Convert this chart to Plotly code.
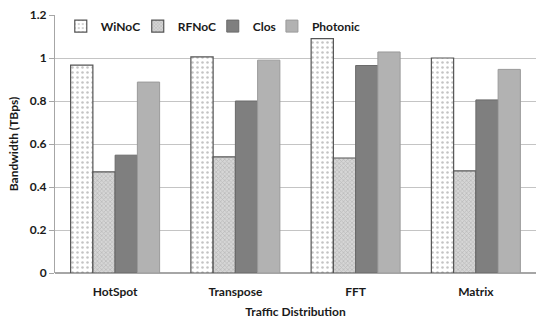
import plotly.graph_objects as go

categories = ["HotSpot", "Transpose", "FFT", "Matrix"]
series_names = ["WiNoC", "RFNoC", "Clos", "Photonic"]
winoc = [0.967, 1.005, 1.09, 1.0]
rfnoc = [0.47, 0.54, 0.535, 0.475]
clos = [0.548, 0.80, 0.965, 0.805]
photonic = [0.888, 0.99, 1.028, 0.947]
y_ticks = [0, 0.2, 0.4, 0.6, 0.8, 1, 1.2]

font = "Lato, Open Sans, sans-serif"

styles = [
    dict(color="white", pattern=dict(shape=".", fgcolor="#8a8a8a", bgcolor="white", size=5, solidity=0.2), line=dict(color="#555555", width=1.2)),
    dict(color="#c8c8c8", pattern=dict(shape="x", fgcolor="#9a9a9a", bgcolor="#d6d6d6", size=3, solidity=0.4), line=dict(color="#555555", width=1.2)),
    dict(color="#7f7f7f", line=dict(color="#6a6a6a", width=1)),
    dict(color="#b2b2b2", line=dict(color="#9a9a9a", width=1)),
]

# legend placement (fraction of plot width) for each series' legend entry
legend_x = [0.012, 0.172, 0.328, 0.451]
legend_ids = ["legend", "legend2", "legend3", "legend4"]

fig = go.Figure()
for name, vals, st, lid in zip(series_names, [winoc, rfnoc, clos, photonic], styles, legend_ids):
    fig.add_trace(go.Bar(name=name, x=categories, y=vals, marker=st, legend=lid, showlegend=True))

legend_common = dict(orientation="h", y=0.957, xanchor="left", yanchor="middle",
                     font=dict(family=font, size=12, color="#1a1a1a", weight="bold"),
                     itemwidth=30, bgcolor="rgba(0,0,0,0)")

fig.update_layout(
    width=536, height=322,
    showlegend=True,
    margin=dict(l=55, r=0, t=15, b=49),
    plot_bgcolor="white", paper_bgcolor="white",
    barmode="group", bargap=0.26, bargroupgap=0,
    font=dict(family=font, size=12, color="#1a1a1a"),
    xaxis=dict(showgrid=False, showline=False, ticks="", ticklabelstandoff=10,
               tickfont=dict(family=font, size=12, weight="bold"),
               title=dict(text="<b>Traffic Distribution</b>", font=dict(family=font, size=12), standoff=9)),
    yaxis=dict(range=[0, 1.2], tickvals=y_ticks, ticktext=["0", "0.2", "0.4", "0.6", "0.8", "1", "1.2"],
               showgrid=True, gridcolor="#c4c4c4", gridwidth=1,
               showline=True, linecolor="#a6a6a6", linewidth=1,
               ticks="outside", ticklen=5, tickcolor="#a6a6a6",
               zeroline=True, zerolinecolor="#a6a6a6",
               tickfont=dict(family=font, size=12, weight="bold"),
               title=dict(text="<b>Bandwidth (TBps)</b>", font=dict(family=font, size=12), standoff=8)),
)
for lid, lx in zip(legend_ids, legend_x):
    fig.update_layout({lid: dict(legend_common, x=lx)})

fig.write_html("out.html", config={"displayModeBar": False},
               post_script="document.body.style.margin='0';")
